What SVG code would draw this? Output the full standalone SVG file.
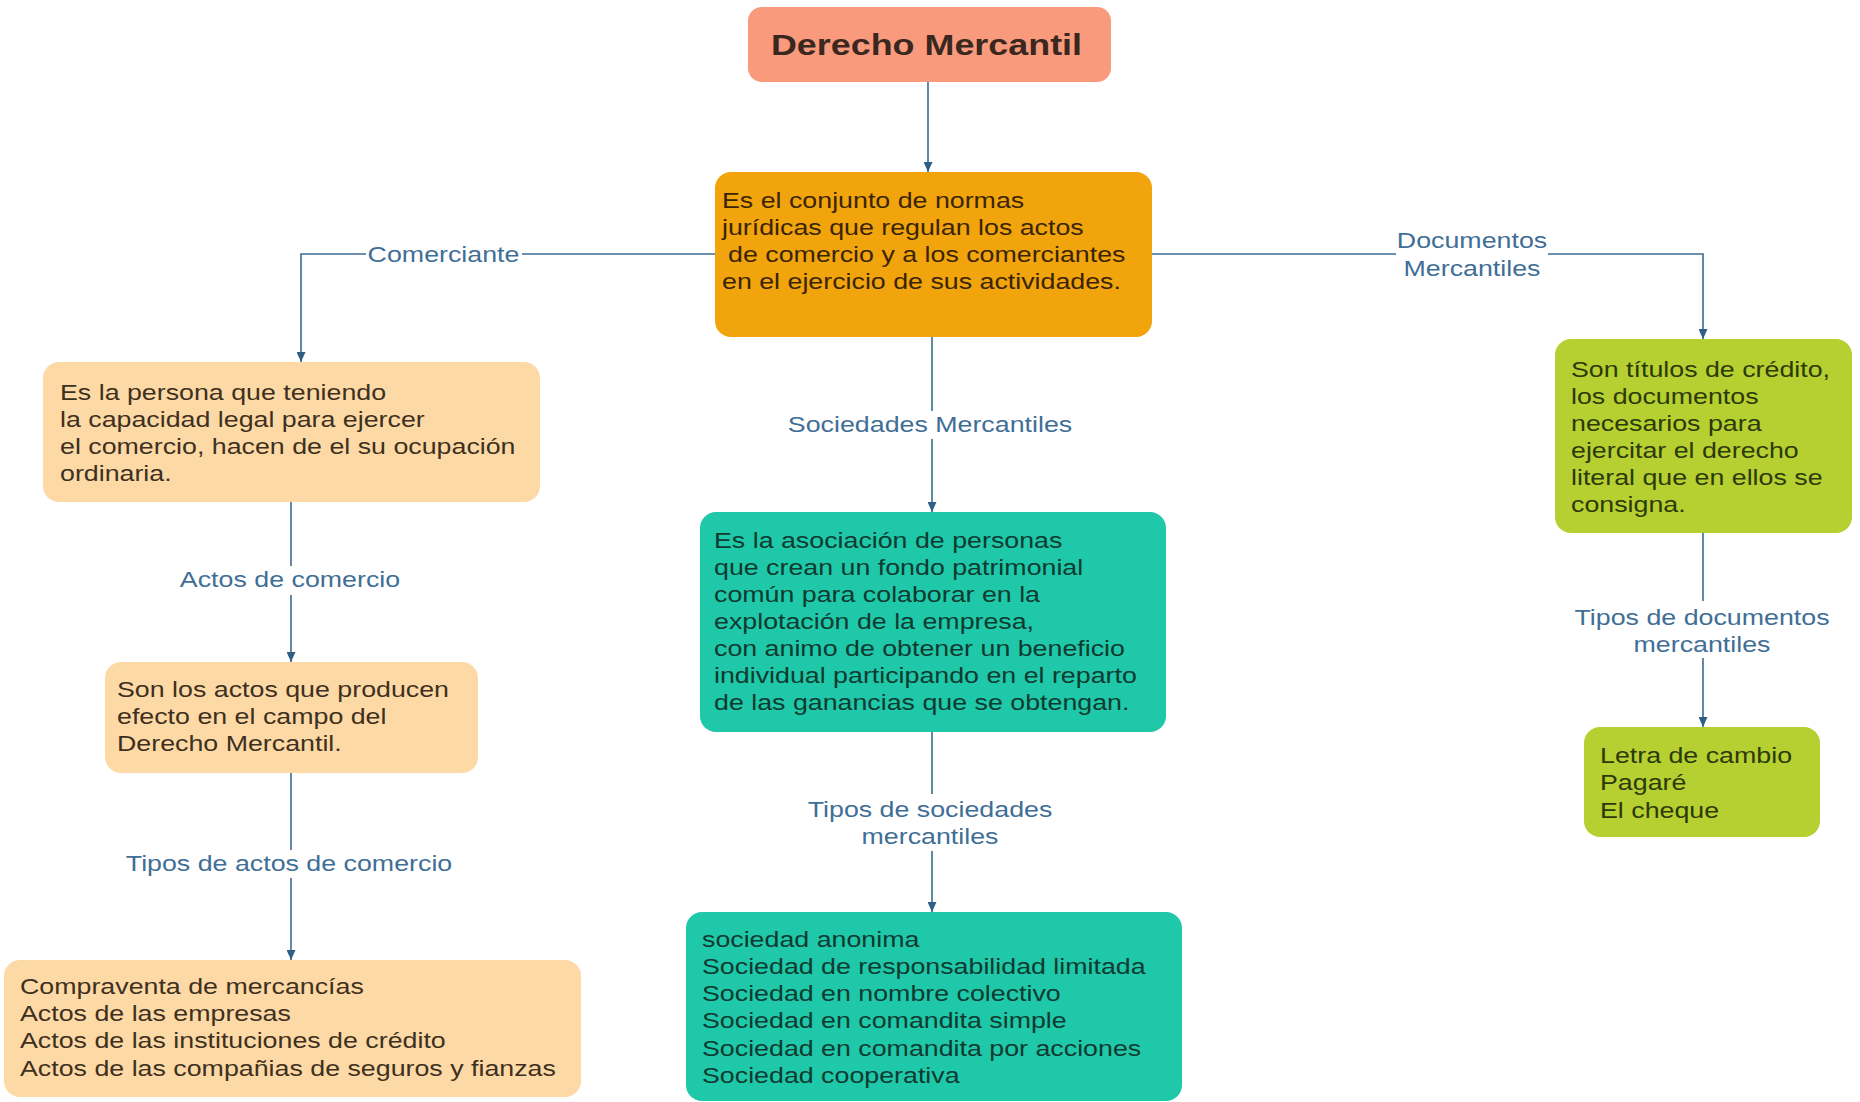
<svg xmlns="http://www.w3.org/2000/svg" width="1860" height="1102" viewBox="0 0 1860 1102">
<defs>
<style>
.bg{fill:#ffffff}
.box{stroke:none}
.t{font-family:"Liberation Sans",Arial,sans-serif;font-size:22px}
.title{font-family:"Liberation Sans",Arial,sans-serif;font-size:29.5px;font-weight:bold;fill:#3a2820}
.lbl{font-family:"Liberation Sans",Arial,sans-serif;font-size:22px;fill:#3f6e96;text-anchor:middle}
.ln{fill:none;stroke:#3b6b91;stroke-width:1.6}
.lb{fill:#ffffff}
.salmon{fill:#fa9a7c}
.orange{fill:#f1a40c}
.peach{fill:#fdd9a6}
.teal{fill:#1ec8a8}
.green{fill:#b6cf31}
.dkbrown{fill:#3a2406}
.brown{fill:#3e3020}
.dkteal{fill:#0f3a30}
.dkgreen{fill:#2c3a0a}
</style>
<marker id="arr" viewBox="0 0 10 9" markerWidth="10" markerHeight="9" refX="10" refY="4.5" orient="auto" markerUnits="userSpaceOnUse">
<path d="M0,0 L10,4.5 L0,9 Z" fill="#2f5f87"/>
</marker>
</defs>
<rect class="bg" x="0" y="0" width="1860" height="1102"/>

<g id="connectors">
<path class="ln" d="M928,82 V172" marker-end="url(#arr)"/>
<path class="ln" d="M715,254 H301 V362" marker-end="url(#arr)"/>
<path class="ln" d="M291,502 V662" marker-end="url(#arr)"/>
<path class="ln" d="M291,773 V960" marker-end="url(#arr)"/>
<path class="ln" d="M932,337 V512" marker-end="url(#arr)"/>
<path class="ln" d="M932,732 V912" marker-end="url(#arr)"/>
<path class="ln" d="M1152,254 H1703 V339" marker-end="url(#arr)"/>
<path class="ln" d="M1703,533 V727" marker-end="url(#arr)"/>

<rect class="lb" x="366" y="240" width="156" height="28"/>
<text class="lbl" transform="matrix(1.218 0 0 1 443.5 0)" x="0" y="262">Comerciante</text>

<rect class="lb" x="1396" y="229" width="152" height="54"/>
<text class="lbl" transform="matrix(1.218 0 0 1 1472 0)"><tspan x="0" y="248">Documentos</tspan><tspan x="0" y="276">Mercantiles</tspan></text>

<rect class="lb" x="783" y="411" width="294" height="28"/>
<text class="lbl" transform="matrix(1.218 0 0 1 930 0)" x="0" y="432">Sociedades Mercantiles</text>

<rect class="lb" x="175" y="566" width="230" height="29"/>
<text class="lbl" transform="matrix(1.218 0 0 1 290 0)" x="0" y="587">Actos de comercio</text>

<rect class="lb" x="120" y="850" width="338" height="28"/>
<text class="lbl" transform="matrix(1.218 0 0 1 289 0)" x="0" y="871">Tipos de actos de comercio</text>

<rect class="lb" x="803" y="794" width="255" height="57"/>
<text class="lbl" transform="matrix(1.218 0 0 1 930 0)"><tspan x="0" y="817">Tipos de sociedades</tspan><tspan x="0" y="844">mercantiles</tspan></text>

<rect class="lb" x="1572" y="601" width="260" height="57"/>
<text class="lbl" transform="matrix(1.218 0 0 1 1702 0)"><tspan x="0" y="625">Tipos de documentos</tspan><tspan x="0" y="652">mercantiles</tspan></text>
</g>

<g id="node-title">
<rect class="box salmon" x="748" y="7" width="363" height="75" rx="14"/>
<text class="title" transform="matrix(1.217 0 0 1 926.5 0)" x="0" y="55" text-anchor="middle">Derecho Mercantil</text>
</g>

<g id="node-definicion">
<rect class="box orange" x="715" y="172" width="437" height="165" rx="16"/>
<text class="t dkbrown" transform="matrix(1.218 0 0 1 722 0)"><tspan x="0" y="208">Es el conjunto de normas</tspan><tspan x="0" y="235">jurídicas que regulan los actos</tspan><tspan x="5" y="262">de comercio y a los comerciantes</tspan><tspan x="0" y="289">en el ejercicio de sus actividades.</tspan></text>
</g>

<g id="node-comerciante">
<rect class="box peach" x="43" y="362" width="497" height="140" rx="16"/>
<text class="t brown" transform="matrix(1.218 0 0 1 60 0)"><tspan x="0" y="400">Es la persona que teniendo</tspan><tspan x="0" y="427">la capacidad legal para ejercer</tspan><tspan x="0" y="454">el comercio, hacen de el su ocupación</tspan><tspan x="0" y="481">ordinaria.</tspan></text>
</g>

<g id="node-actos">
<rect class="box peach" x="105" y="662" width="373" height="111" rx="16"/>
<text class="t brown" transform="matrix(1.218 0 0 1 117 0)"><tspan x="0" y="697">Son los actos que producen</tspan><tspan x="0" y="724">efecto en el campo del</tspan><tspan x="0" y="751">Derecho Mercantil.</tspan></text>
</g>

<g id="node-tipos-actos">
<rect class="box peach" x="4" y="960" width="577" height="137" rx="16"/>
<text class="t brown" transform="matrix(1.218 0 0 1 20 0)"><tspan x="0" y="994">Compraventa de mercancías</tspan><tspan x="0" y="1021">Actos de las empresas</tspan><tspan x="0" y="1048">Actos de las instituciones de crédito</tspan><tspan x="0" y="1076">Actos de las compañias de seguros y fianzas</tspan></text>
</g>

<g id="node-sociedades">
<rect class="box teal" x="700" y="512" width="466" height="220" rx="16"/>
<text class="t dkteal" transform="matrix(1.218 0 0 1 714 0)"><tspan x="0" y="548">Es la asociación de personas</tspan><tspan x="0" y="575">que crean un fondo patrimonial</tspan><tspan x="0" y="602">común para colaborar en la</tspan><tspan x="0" y="629">explotación de la empresa,</tspan><tspan x="0" y="656">con animo de obtener un beneficio</tspan><tspan x="0" y="683">individual participando en el reparto</tspan><tspan x="0" y="710">de las ganancias que se obtengan.</tspan></text>
</g>

<g id="node-tipos-sociedades">
<rect class="box teal" x="686" y="912" width="496" height="189" rx="16"/>
<text class="t dkteal" transform="matrix(1.218 0 0 1 702 0)"><tspan x="0" y="947">sociedad anonima</tspan><tspan x="0" y="974">Sociedad de responsabilidad limitada</tspan><tspan x="0" y="1001">Sociedad en nombre colectivo</tspan><tspan x="0" y="1028">Sociedad en comandita simple</tspan><tspan x="0" y="1056">Sociedad en comandita por acciones</tspan><tspan x="0" y="1083">Sociedad cooperativa</tspan></text>
</g>

<g id="node-documentos">
<rect class="box green" x="1555" y="339" width="297" height="194" rx="16"/>
<text class="t dkgreen" transform="matrix(1.218 0 0 1 1571 0)"><tspan x="0" y="377">Son títulos de crédito,</tspan><tspan x="0" y="404">los documentos</tspan><tspan x="0" y="431">necesarios para</tspan><tspan x="0" y="458">ejercitar el derecho</tspan><tspan x="0" y="485">literal que en ellos se</tspan><tspan x="0" y="512">consigna.</tspan></text>
</g>

<g id="node-tipos-documentos">
<rect class="box green" x="1584" y="727" width="236" height="110" rx="16"/>
<text class="t dkgreen" transform="matrix(1.218 0 0 1 1600 0)"><tspan x="0" y="763">Letra de cambio</tspan><tspan x="0" y="790">Pagaré</tspan><tspan x="0" y="818">El cheque</tspan></text>
</g>
</svg>
